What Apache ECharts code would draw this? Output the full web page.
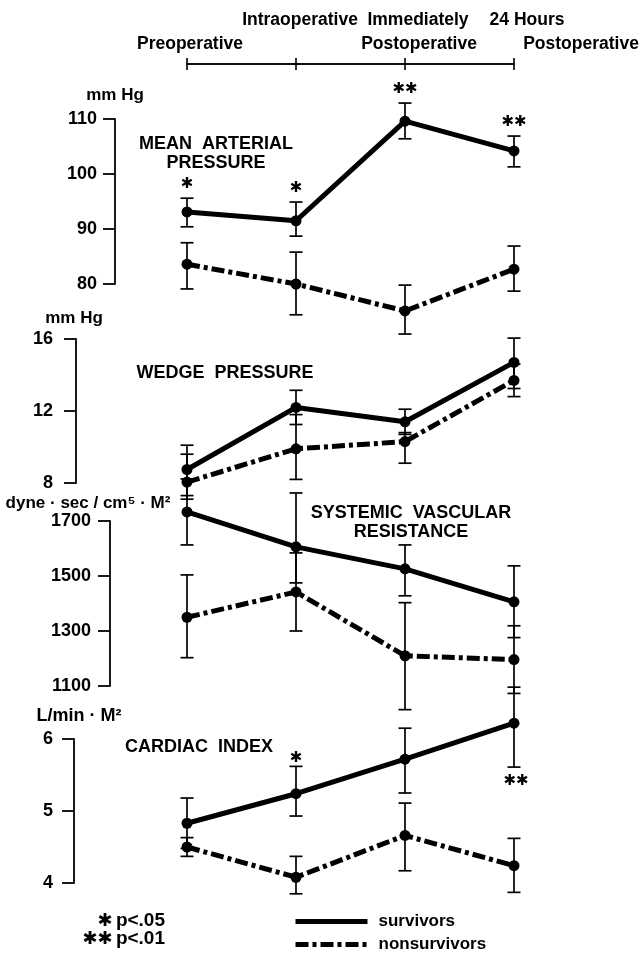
<!DOCTYPE html>
<html><head><meta charset="utf-8">
<script src="https://cdn.jsdelivr.net/npm/echarts@6/dist/echarts.min.js"></script>
<style>html,body{margin:0;padding:0;background:#fff}#c{width:642px;height:953px}</style>
</head><body><div id="c"></div>
<script>
// ---- data ----
const categories = ['Preoperative', 'Intraoperative', 'Immediately Postoperative', '24 Hours Postoperative'];
const topLabelRow1 = ['', 'Intraoperative', 'Immediately', '24 Hours'];
const topLabelRow2 = ['Preoperative', '', 'Postoperative', 'Postoperative'];
const groupNames = ['survivors', 'nonsurvivors'];

// Mean arterial pressure (mm Hg)
const mapSurv   = [93.1, 91.5, 109.6, 104.2];
const mapSurvHi = [95.6, 94.9, 112.9, 106.9];
const mapSurvLo = [90.4, 88.7, 106.4, 101.3];
const mapNon    = [83.6, 80.0, 75.1, 82.7];
const mapNonHi  = [87.5, 85.8, 79.8, 86.9];
const mapNonLo  = [79.1, 74.4, 70.9, 78.7];
const mapSig    = ['*', '*', '**', '**'];

// Wedge pressure (mm Hg)
const wpSurv   = [8.75, 12.2, 11.4, 14.7];
const wpSurvHi = [10.1, 13.15, 12.1, 16.05];
const wpSurvLo = [7.3, 11.25, 10.7, 13.25];
const wpNon    = [8.05, 9.9, 10.3, 13.7];
const wpNonHi  = [9.6, 11.8, 10.8, 14.6];
const wpNonLo  = [7.1, 8.2, 9.1, 12.8];
const wpSig    = ['', '', '', ''];

// Systemic vascular resistance (dyne·sec/cm5·M2)
const svrSurv   = [1733, 1606, 1526, 1406];
const svrSurvHi = [1853, 1802, 1613, 1537];
const svrSurvLo = [1613, 1475, 1428, 1276];
const svrNon    = [1350, 1442, 1210, 1196];
const svrNonHi  = [1504, 1584, 1403, 1319];
const svrNonLo  = [1203, 1300, 1014, 1073];
const svrSig    = ['', '', '', ''];

// Cardiac index (L/min·M2)
const ciSurv   = [4.83, 5.24, 5.72, 6.22];
const ciSurvHi = [5.18, 5.62, 6.15, 6.72];
const ciSurvLo = [4.48, 4.93, 5.25, 5.61];
const ciNon    = [4.5, 4.08, 4.66, 4.24];
const ciNonHi  = [4.63, 4.37, 5.11, 4.62];
const ciNonLo  = [4.37, 3.85, 4.17, 3.87];
const ciSig    = ['', '*', '', '**'];

// axis ranges / tick labels
const mapTicks = [80, 90, 100, 110];
const wpTicks  = [8, 12, 16];
const svrTicks = [1100, 1300, 1500, 1700];
const ciTicks  = [4, 5, 6];

const panelTitles = ['MEAN  ARTERIAL\nPRESSURE', 'WEDGE  PRESSURE', 'SYSTEMIC  VASCULAR\nRESISTANCE', 'CARDIAC  INDEX'];
const unitLabels = ['mm Hg', 'mm Hg', 'dyne · sec / cm\u2075 · M\u00B2', 'L/min · M\u00B2'];
const sigStars = ['*', '**'];
const sigText = ['p<.05', 'p<.01'];

// ---- layout ----
const FONT = 'Liberation Sans';
const STARFONT = 'DejaVu Sans';
const GL = 187, GR = 642 - 514;
const panels = [
  {top: 119, height: 165, ticks: mapTicks, axisX: 115, margin: 18, nameGap: 24, namePad: [0,0,0,0], nameSize: 17,
   s: [mapSurv, mapSurvLo, mapSurvHi], n: [mapNon, mapNonLo, mapNonHi], sig: mapSig},
  {top: 339, height: 144, ticks: wpTicks, axisX: 76, margin: 23, nameGap: 21, namePad: [0,4,0,0], nameSize: 17,
   s: [wpSurv, wpSurvLo, wpSurvHi], n: [wpNon, wpNonLo, wpNonHi], sig: wpSig},
  {top: 521, height: 165, ticks: svrTicks, axisX: 110, margin: 19, nameGap: 14, namePad: [0,44,0,0], nameSize: 17,
   s: [svrSurv, svrSurvLo, svrSurvHi], n: [svrNon, svrNonLo, svrNonHi], sig: svrSig},
  {top: 739, height: 144, ticks: ciTicks, axisX: 74, margin: 21, nameGap: 23, namePad: [0,0,0,10], nameSize: 18,
   s: [ciSurv, ciSurvLo, ciSurvHi], n: [ciNon, ciNonLo, ciNonHi], sig: ciSig}
];

const grids = [], xAxes = [], yAxes = [], series = [];
const txt = {fontFamily: FONT, fontWeight: 'bold', color: '#000'};
const NONDASH = [13, 4, 4, 4];

panels.forEach((p, i) => {
  grids.push({left: GL, right: GR, top: p.top, height: p.height, outerBoundsMode: 'none', containLabel: false});
  xAxes.push({type: 'category', gridIndex: i, data: categories, boundaryGap: false, show: false});
  const t = p.ticks;
  yAxes.push({
    type: 'value', gridIndex: i, min: t[0], max: t[t.length - 1], interval: t[1] - t[0],
    offset: GL - p.axisX, position: 'left',
    splitLine: {show: false},
    axisLine: {show: true, lineStyle: {color: '#000', width: 1.8}},
    axisTick: {show: true, inside: false, length: 12, lineStyle: {color: '#000', width: 1.8}},
    axisLabel: {show: true, margin: p.margin, fontSize: 18, ...txt, formatter: v => String(v)},
    name: unitLabels[i], nameLocation: 'end', nameGap: p.nameGap,
    nameTextStyle: {fontSize: p.nameSize, ...txt, align: 'center', verticalAlign: 'middle', padding: p.namePad}
  });
  [[p.s, 'survivors', 'solid'], [p.n, 'nonsurvivors', NONDASH]].forEach(([arr, name, dash]) => {
    series.push({
      type: 'line', name: name, xAxisIndex: i, yAxisIndex: i, data: arr[0], clip: false,
      symbol: 'circle', symbolSize: 11, z: 3, silent: true,
      itemStyle: {color: '#000'},
      lineStyle: {color: '#000', width: 5, type: dash, cap: 'butt'}
    });
    const lo = arr[1], hi = arr[2];
    series.push({
      type: 'custom', xAxisIndex: i, yAxisIndex: i, z: 2, silent: true, clip: false,
      data: arr[0].map((v, j) => [j, lo[j], hi[j]]),
      encode: {x: 0, y: [1, 2]},
      renderItem: (params, api) => {
        const x = api.value(0);
        const a = api.coord([x, api.value(1)]), b = api.coord([x, api.value(2)]);
        const w = 6.5, st = {stroke: '#000', lineWidth: 1.7};
        return {type: 'group', children: [
          {type: 'line', shape: {x1: a[0], y1: a[1], x2: b[0], y2: b[1]}, style: st},
          {type: 'line', shape: {x1: a[0] - w, y1: a[1], x2: a[0] + w, y2: a[1]}, style: st},
          {type: 'line', shape: {x1: b[0] - w, y1: b[1], x2: b[0] + w, y2: b[1]}, style: st}
        ]};
      }
    });
  });
  // significance marks for survivors vs nonsurvivors
  const sLo = p.s[1], sHi = p.s[2], sig = p.sig;
  series.push({
    type: 'custom', xAxisIndex: i, yAxisIndex: i, z: 4, silent: true, clip: false,
    data: sig.map((v, j) => [j, sLo[j], sHi[j]]),
    encode: {x: 0, y: [1, 2]},
    renderItem: (params, api) => {
      const j = params.dataIndex;
      const s = sig[j];
      if (!s) return null;
      const x = api.value(0);
      const below = (i === 3 && j === 3);
      const pt = below ? api.coord([x, api.value(1)]) : api.coord([x, api.value(2)]);
      const dy = below ? 14 : (i === 3 ? -8 : -14);
      return {type: 'text', x: pt[0] + (below ? 2 : 0), y: pt[1] + dy, style: {
        text: s.replace(/\*/g, '\u2731'), font: '15px "' + STARFONT + '"', fill: '#000',
        align: 'center', verticalAlign: 'middle'}};
    }
  });
});

// top timeline axis
grids.push({left: GL, right: GR, top: 52, height: 12, outerBoundsMode: 'none', containLabel: false});
[true, false].forEach(inside => {
  xAxes.push({type: 'category', gridIndex: 4, data: categories, boundaryGap: false, position: 'bottom',
    axisLine: {show: true, lineStyle: {color: '#000', width: 1.6}},
    axisTick: {show: true, inside: inside, length: 6, interval: 0, alignWithLabel: true, lineStyle: {color: '#000', width: 1.6}},
    axisLabel: {show: false}, splitLine: {show: false}});
});
yAxes.push({type: 'value', gridIndex: 4, show: false, min: 0, max: 1});

// text graphics
const graphics = [];
const addText = (text, x, y, size, align) => graphics.push({type: 'text', x: x, y: y, silent: true,
  style: {text: text, font: 'bold ' + size + 'px "' + FONT + '"', fill: '#000', align: align || 'center', verticalAlign: 'middle', lineHeight: size + 1}});
const row1X = [0, 300, 418, 527], row2X = [190, 0, 419, 581];
topLabelRow1.forEach((t, k) => { if (t) addText(t, row1X[k], 20, 17.5); });
topLabelRow2.forEach((t, k) => { if (t) addText(t, row2X[k], 44, 17.5); });
const titlePos = [[216, 154], [225, 373], [411, 523], [199, 747]];
panelTitles.forEach((t, k) => addText(t, titlePos[k][0], titlePos[k][1], 18));
[921, 939].forEach((y, k) => graphics.push({type: 'text', x: 165, y: y, silent: true, style: {
  text: '{s|' + sigStars[k].replace(/\*/g, '\u2731') + '} {t|' + sigText[k] + '}',
  align: 'right', verticalAlign: 'middle',
  rich: {
    s: {font: '18px "' + STARFONT + '"', fill: '#000'},
    t: {font: 'bold 19px "' + FONT + '"', fill: '#000'}
  }}}));

const legendBase = {
  orient: 'horizontal', left: 293, padding: 0,
  itemWidth: 72, itemHeight: 14,
  itemStyle: {opacity: 0},
  textStyle: {fontSize: 17, ...txt, padding: [0, 0, 0, 6]},
  selectedMode: false
};

const chart = echarts.init(document.getElementById('c'), null, {renderer: 'canvas'});
chart.setOption({
  backgroundColor: '#fff',
  animation: false,
  grid: grids, xAxis: xAxes, yAxis: yAxes, series: series,
  legend: [
    Object.assign({}, legendBase, {top: 913,
      data: [{name: groupNames[0], lineStyle: {width: 5, type: 'solid', color: '#000'}}]}),
    Object.assign({}, legendBase, {top: 936,
      data: [{name: groupNames[1], lineStyle: {width: 5, type: NONDASH, color: '#000'}}]})
  ],
  graphic: graphics
});
</script></body></html>
